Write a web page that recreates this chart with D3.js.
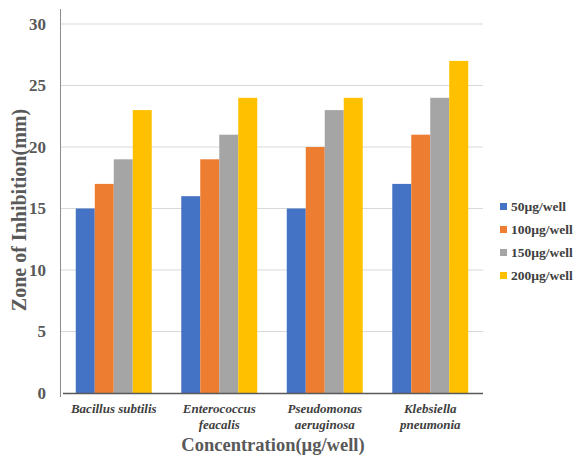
<!DOCTYPE html>
<html><head><meta charset="utf-8">
<script src="https://cdn.jsdelivr.net/npm/d3@7"></script>
<style>body{margin:0;background:#fff;} svg{display:block;}</style>
</head><body>
<script>
const categories = [["Bacillus subtilis"], ["Enterococcus","feacalis"], ["Pseudomonas","aeruginosa"], ["Klebsiella","pneumonia"]];
const seriesNames = ["50µg/well","100µg/well","150µg/well","200µg/well"];
const s50 = [15,16,15,17];
const s100 = [17,19,20,21];
const s150 = [19,21,23,24];
const s200 = [23,24,24,27];
const yTicks = [0,5,10,15,20,25,30];
const colors = ["#4472C4","#ED7D31","#A5A5A5","#FFC000"];
const series = [s50,s100,s150,s200];

const FF='"Liberation Serif"';
const W=579,H=456;
const svg=d3.select("body").append("svg").attr("width",W).attr("height",H);
const x0=d3.scaleBand().domain(d3.range(categories.length)).range([61,483]).paddingInner(0.28).paddingOuter(0.14);
const x1=d3.scaleBand().domain(d3.range(series.length)).range([0,x0.bandwidth()]);
const y=d3.scaleLinear().domain([0,30]).range([393,24]);

svg.append("g").selectAll("line").data(yTicks.filter(d=>d>0)).join("line")
 .attr("x1",61).attr("x2",483).attr("y1",d=>y(d)).attr("y2",d=>y(d))
 .attr("stroke","#d9d9d9").attr("stroke-width",1);
svg.append("line").attr("x1",60.5).attr("x2",60.5).attr("y1",9).attr("y2",397).attr("stroke","#8c8c8c").attr("stroke-width",1);
const g=svg.append("g");
series.forEach((s,si)=>{
  g.selectAll(null).data(s).join("rect")
   .attr("x",(d,i)=>x0(i)+x1(si)).attr("width",x1.bandwidth())
   .attr("y",d=>y(d)).attr("height",d=>y(0)-y(d)).attr("fill",colors[si]);
});
svg.append("line").attr("x1",63).attr("x2",483).attr("y1",393.5).attr("y2",393.5).attr("stroke","#595959").attr("stroke-width",1.5);
svg.append("g").selectAll("text").data(yTicks).join("text")
 .attr("x",46).attr("y",d=>y(d)).attr("dy","0.35em").attr("text-anchor","end")
 .style("font-family",FF).style("font-weight","bold").style("font-size","17px").attr("fill","#595959").text(d=>d);
categories.forEach((c,i)=>{
  const t=svg.append("text").attr("x",x0(i)+x0.bandwidth()/2).attr("y",413)
   .attr("text-anchor","middle").style("font-family",FF).style("font-style","italic").style("font-weight","bold")
   .style("font-size","13px").attr("fill","#404040");
  c.forEach((line,k)=>t.append("tspan").attr("x",x0(i)+x0.bandwidth()/2).attr("dy",k?16:0).text(line));
});
svg.append("text").attr("transform","translate(26,210) rotate(-90)").attr("text-anchor","middle")
 .style("font-family",FF).style("font-weight","bold").style("font-size","20px").attr("fill","#595959").text("Zone of Inhibition(mm)");
svg.append("text").attr("x",273).attr("y",451).attr("text-anchor","middle")
 .style("font-family",FF).style("font-weight","bold").style("font-size","18.5px").attr("fill","#595959").text("Concentration(µg/well)");
const lg=svg.append("g");
seriesNames.forEach((n,i)=>{
  const yy=206+i*23;
  lg.append("rect").attr("x",500).attr("y",yy-3).attr("width",7).attr("height",7).attr("fill",colors[i]);
  lg.append("text").attr("x",511).attr("y",yy).attr("dy","0.35em").style("font-family",FF).style("font-weight","bold")
   .style("font-size","13.5px").attr("fill","#404040").text(n);
});
</script>
</body></html>
